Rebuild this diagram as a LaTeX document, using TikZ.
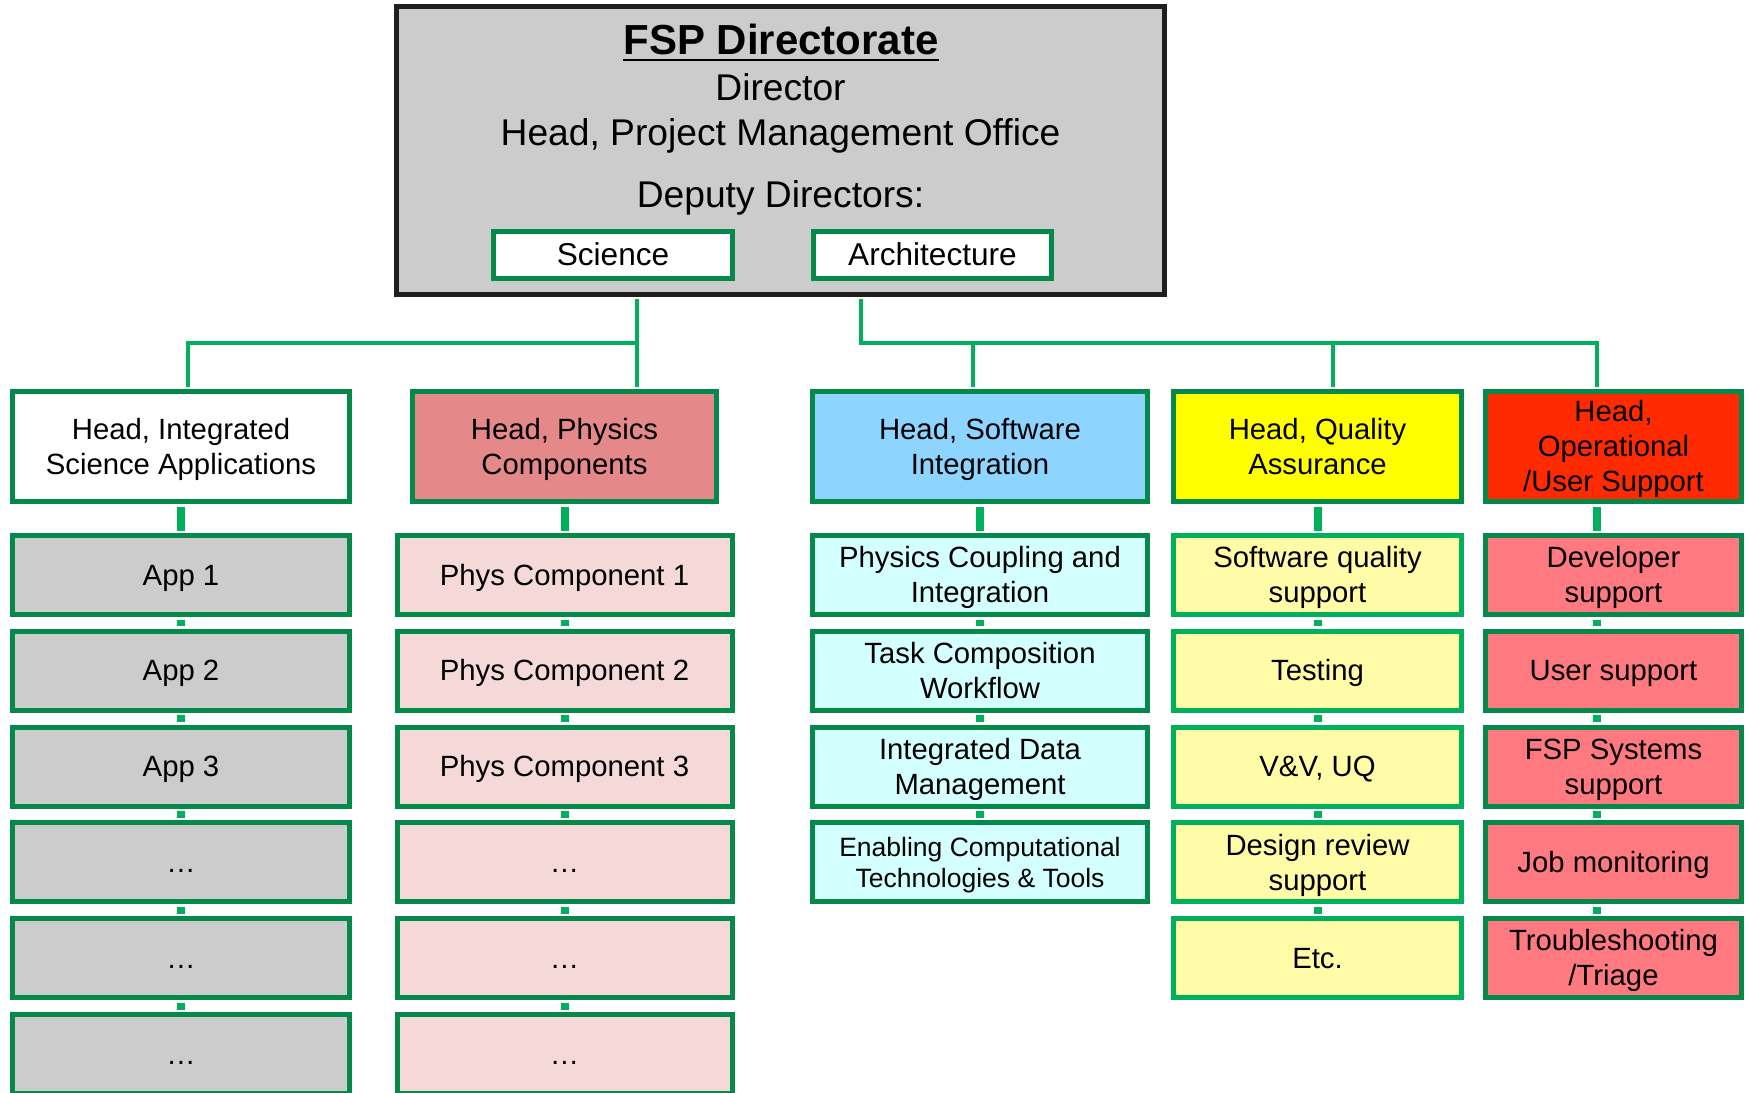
\documentclass[tikz,border=0pt]{standalone}
\usepackage{fontspec}
\setmainfont{Liberation Sans}
\usepackage{tikz}
\usetikzlibrary{positioning}

\definecolor{edgegreen}{HTML}{04894A}
\definecolor{wiregreen}{HTML}{00B05C}
\definecolor{boxgray}{HTML}{CCCCCC}
\definecolor{physred}{HTML}{E58889}
\definecolor{physpink}{HTML}{F5D9D9}
\definecolor{swblue}{HTML}{8DD4FF}
\definecolor{swcyan}{HTML}{D4FFFF}
\definecolor{qayellow}{HTML}{FFFF00}
\definecolor{qapale}{HTML}{FFFBA6}
\definecolor{opsred}{HTML}{FF2A00}
\definecolor{opssalmon}{HTML}{FF7A80}

% line box as tall as the font's ascent + descent
\newcommand{\lstrut}{\vrule width 0pt height .905em depth .212em}

\begin{document}
\begin{tikzpicture}[x=1pt,y=-1pt,node distance=95.8pt]
\tikzstyle{box}=[draw=edgegreen,line width=5pt,inner sep=2pt,align=center,text=black,font=\fontsize{29.3}{35}\selectfont,
                 execute at begin node=\lstrut,execute at end node=\lstrut]
\tikzstyle{head}=[box,minimum height=110pt]
\tikzstyle{sub}=[box,minimum height=79pt]
\tikzstyle{label}=[inner sep=0pt,anchor=base,font=\fontsize{37.2}{44}\selectfont]
\tikzstyle{wire}=[color=wiregreen,line width=4pt,shorten >=2.5pt]
\tikzstyle{link}=[color=wiregreen,line width=8pt,shorten >=2.5pt,shorten <=2.5pt]

\useasboundingbox (0,0) rectangle (1750,1092);
\clip (0,0) rectangle (1750,1092);

        % directorate box
        \node[draw=black!88,fill=boxgray,line width=5pt,minimum width=768pt,minimum height=288pt] (fsp) at (780.5,150.5) {};
        \node[label,font=\fontsize{42}{50}\selectfont\bfseries] (title) at (781,54) {FSP Directorate};
        \draw[line width=2.5pt] ([yshift=-6pt]title.base west) -- ([yshift=-6pt]title.base east);
        \node[label] (dir) at (780.5,100) {Director};
        \node[label] (pmo) at (780.5,145) {Head, Project Management Office};
        \node[label] (dep) at (780.5,207) {Deputy Directors:};
        \node[box,fill=white,minimum width=239pt,minimum height=47pt,font=\fontsize{31.6}{38}\selectfont] (sci) at (613,255) {Science};
        \node[box,fill=white,minimum width=238pt,minimum height=47pt,font=\fontsize{31.6}{38}\selectfont] (arch) at (932.5,255) {Architecture};

        % heads
        \node[head,fill=white,minimum width=337pt]      (isa) at (181,446.5)    {\lstrut Head, Integrated\\Science Applications};
        \node[head,fill=physred,minimum width=304pt]    (phc) at (564.5,446.5)  {\lstrut Head, Physics\\Components};
        \node[head,fill=swblue,minimum width=335pt]     (swi) at (980,446.5)    {\lstrut Head, Software\\Integration};
        \node[head,fill=qayellow,minimum width=288pt]   (qa)  at (1317.5,446.5) {\lstrut Head, Quality\\Assurance};
        \node[head,fill=opsred,minimum width=256pt]     (ops) at (1613.5,446.5) {\lstrut Head,\\Operational\\/User Support};

        % applications
        \node[sub,fill=boxgray,minimum width=337pt,node distance=128.5pt] (app1) [below of=isa]  {App 1};
        \node[sub,fill=boxgray,minimum width=337pt]                       (app2) [below of=app1] {App 2};
        \node[sub,fill=boxgray,minimum width=337pt]                       (app3) [below of=app2] {App 3};
        \node[sub,fill=boxgray,minimum width=337pt]                       (app4) [below of=app3] {…};
        \node[sub,fill=boxgray,minimum width=337pt]                       (app5) [below of=app4] {…};
        \node[sub,fill=boxgray,minimum width=337pt]                       (app6) [below of=app5] {…};

        % physics components
        \node[sub,fill=physpink,minimum width=335pt,node distance=128.5pt] (pc1) [below of=phc] {Phys Component 1};
        \node[sub,fill=physpink,minimum width=335pt]                       (pc2) [below of=pc1] {Phys Component 2};
        \node[sub,fill=physpink,minimum width=335pt]                       (pc3) [below of=pc2] {Phys Component 3};
        \node[sub,fill=physpink,minimum width=335pt]                       (pc4) [below of=pc3] {…};
        \node[sub,fill=physpink,minimum width=335pt]                       (pc5) [below of=pc4] {…};
        \node[sub,fill=physpink,minimum width=335pt]                       (pc6) [below of=pc5] {…};

        % software integration
        \node[sub,fill=swcyan,minimum width=335pt,node distance=128.5pt] (swi1) [below of=swi]  {\lstrut Physics Coupling and\\Integration};
        \node[sub,fill=swcyan,minimum width=335pt]                       (swi2) [below of=swi1] {\lstrut Task Composition\\Workflow};
        \node[sub,fill=swcyan,minimum width=335pt]                       (swi3) [below of=swi2] {\lstrut Integrated Data\\Management};
        \node[sub,fill=swcyan,minimum width=335pt,font=\fontsize{26.5}{31}\selectfont] (swi4) [below of=swi3] {\lstrut Enabling Computational\\Technologies \& Tools};

        % quality assurance
        \node[sub,draw=wiregreen,fill=qapale,minimum width=288pt,node distance=128.5pt] (qa1) [below of=qa]  {\lstrut Software quality\\support};
        \node[sub,draw=wiregreen,fill=qapale,minimum width=288pt]                       (qa2) [below of=qa1] {Testing};
        \node[sub,draw=wiregreen,fill=qapale,minimum width=288pt]                       (qa3) [below of=qa2] {V\&V, UQ};
        \node[sub,draw=wiregreen,fill=qapale,minimum width=288pt]                       (qa4) [below of=qa3] {\lstrut Design review\\support};
        \node[sub,draw=wiregreen,fill=qapale,minimum width=288pt]                       (qa5) [below of=qa4] {Etc.};

        % operational / user support
        \node[sub,fill=opssalmon,minimum width=256pt,node distance=128.5pt] (ops1) [below of=ops]  {\lstrut Developer\\support};
        \node[sub,fill=opssalmon,minimum width=256pt]                       (ops2) [below of=ops1] {User support};
        \node[sub,fill=opssalmon,minimum width=256pt]                       (ops3) [below of=ops2] {\lstrut FSP Systems\\support};
        \node[sub,fill=opssalmon,minimum width=256pt]                       (ops4) [below of=ops3] {Job monitoring};
        \node[sub,fill=opssalmon,minimum width=256pt]                       (ops5) [below of=ops4] {\lstrut Troubleshooting\\/Triage};

        % junctions on the two bars
        \coordinate (lj)  at (188,343);
        \coordinate (sj)  at (637,343);
        \coordinate (aj)  at (861,343);
        \coordinate (swj) at (973,343);
        \coordinate (qaj) at (1333,343);
        \coordinate (opj) at (1597,343);

        \draw[wire,shorten <=2pt] (fsp.south -| sj) -- (phc.north -| sj);
        \draw[wire] (sj) -- (lj) -- (isa.north -| lj);
        \draw[wire,shorten <=2pt] (fsp.south -| aj) -- (aj) -- (opj) -- (ops.north -| opj);
        \draw[wire] (swj) -- (swi.north -| swj);
        \draw[wire] (qaj) -- (qa.north -| qaj);

        \path[link]
        (isa)  edge (app1)
        (app1) edge (app2)
        (app2) edge (app3)
        (app3) edge (app4)
        (app4) edge (app5)
        (app5) edge (app6)
        (phc)  edge (pc1)
        (pc1)  edge (pc2)
        (pc2)  edge (pc3)
        (pc3)  edge (pc4)
        (pc4)  edge (pc5)
        (pc5)  edge (pc6)
        (swi)  edge (swi1)
        (swi1) edge (swi2)
        (swi2) edge (swi3)
        (swi3) edge (swi4)
        (qa)   edge (qa1)
        (qa1)  edge (qa2)
        (qa2)  edge (qa3)
        (qa3)  edge (qa4)
        (qa4)  edge (qa5)
        (ops.south -| opj)  edge (ops1.north -| opj)
        (ops1.south -| opj) edge (ops2.north -| opj)
        (ops2.south -| opj) edge (ops3.north -| opj)
        (ops3.south -| opj) edge (ops4.north -| opj)
        (ops4.south -| opj) edge (ops5.north -| opj)
        ; %end path

\end{tikzpicture}
\end{document}
